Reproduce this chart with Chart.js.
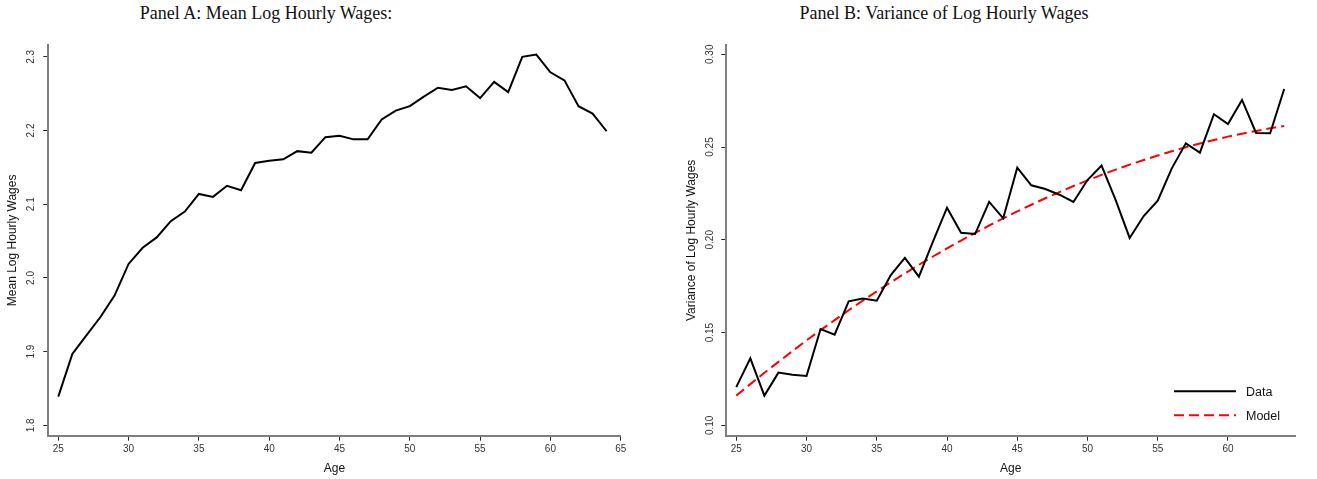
<!DOCTYPE html>
<html>
<head>
<meta charset="utf-8">
<script src="https://cdn.jsdelivr.net/npm/chart.js@4.4.1/dist/chart.umd.min.js"></script>
<style>
  body { margin: 0; background: #fff; width: 1317px; height: 479px; position: relative; overflow: hidden; }
  .title { position: absolute; top: 3px; font-family: "Liberation Serif", serif; font-size: 18px; line-height: 20px; color: #111; white-space: nowrap; transform: translateX(-50%); }
  canvas { position: absolute; top: 0; }
</style>
</head>
<body>
<div class="title" style="left:266px">Panel A: Mean Log Hourly Wages:</div>
<div class="title" style="left:944px">Panel B: Variance of Log Hourly Wages</div>
<canvas id="chartA" width="660" height="479" style="left:0"></canvas>
<canvas id="chartB" width="657" height="479" style="left:660px"></canvas>
<script>
// Ages on the x axis
const ages = [25, 26, 27, 28, 29, 30, 31, 32, 33, 34, 35, 36, 37, 38, 39, 40, 41, 42, 43, 44,
              45, 46, 47, 48, 49, 50, 51, 52, 53, 54, 55, 56, 57, 58, 59, 60, 61, 62, 63, 64];

// Panel A: mean log hourly wages
const meanLogWage = [1.839, 1.897, 1.922, 1.947, 1.976, 2.019, 2.041, 2.055, 2.077, 2.090,
                     2.114, 2.110, 2.125, 2.119, 2.156, 2.159, 2.161, 2.172, 2.170, 2.191,
                     2.193, 2.188, 2.188, 2.215, 2.227, 2.233, 2.246, 2.258, 2.255, 2.260,
                     2.244, 2.266, 2.252, 2.300, 2.303, 2.279, 2.268, 2.233, 2.223, 2.199];

// Panel B: variance of log hourly wages, data and model
const varData = [0.1206, 0.1361, 0.1160, 0.1284, 0.1273, 0.1266, 0.1519, 0.1489, 0.1668, 0.1684,
                 0.1672, 0.1810, 0.1902, 0.1801, 0.1990, 0.2173, 0.2038, 0.2031, 0.2205, 0.2116,
                 0.2389, 0.2294, 0.2274, 0.2243, 0.2204, 0.2322, 0.2400, 0.2215, 0.2010, 0.2128,
                 0.2211, 0.2385, 0.2520, 0.2470, 0.2677, 0.2624, 0.2754, 0.2576, 0.2574, 0.2813];
const varModel = [0.1160, 0.1222, 0.1283, 0.1342, 0.1400, 0.1458, 0.1513, 0.1567, 0.1620, 0.1672,
                  0.1722, 0.1771, 0.1819, 0.1865, 0.1910, 0.1954, 0.1996, 0.2037, 0.2077, 0.2116,
                  0.2153, 0.2189, 0.2224, 0.2257, 0.2290, 0.2320, 0.2350, 0.2378, 0.2405, 0.2430,
                  0.2454, 0.2477, 0.2499, 0.2519, 0.2538, 0.2556, 0.2572, 0.2587, 0.2601, 0.2613];

// Tick labels
const xTicksA = [25, 30, 35, 40, 45, 50, 55, 60, 65];
const yTicksA = [1.8, 1.9, 2.0, 2.1, 2.2, 2.3];
const xTicksB = [25, 30, 35, 40, 45, 50, 55, 60];
const yTicksB = [0.10, 0.15, 0.20, 0.25, 0.30];

const seriesLabels = ['Data', 'Model'];

const tickFont = { family: '"Liberation Sans", Arial, sans-serif', size: 10 };
const titleFont = { family: '"Liberation Sans", Arial, sans-serif', size: 12 };

function toPoints(xs, ys) {
    return xs.map((x, i) => ({ x: x, y: ys[i] }));
}

function axisX(min, max, tickList) {
    return {
        type: 'linear',
        min: min,
        max: max,
        afterBuildTicks: s => { s.ticks = tickList.map(v => ({ value: v })); },
        afterFit: s => { s.height = 43.3; },
        ticks: { font: tickFont, color: '#333', padding: 3, maxRotation: 0, callback: v => String(v) },
        grid: { display: true, drawOnChartArea: false, drawTicks: true, tickLength: 5, tickColor: '#222', tickWidth: 1 },
        border: { display: true, color: '#7f7f7f', width: 2 },
        title: { display: true, text: 'Age', font: titleFont, color: '#111', padding: { top: 0, bottom: 3.5 } }
    };
}

function axisY(min, max, tickList, decimals, width, tickPad, title, titlePad) {
    return {
        type: 'linear',
        min: min,
        max: max,
        afterBuildTicks: s => { s.ticks = tickList.map(v => ({ value: v })); },
        afterFit: s => { s.width = width; },
        ticks: { font: tickFont, color: '#333', padding: tickPad, minRotation: 90, maxRotation: 90,
                 crossAlign: 'center', callback: v => Number(v).toFixed(decimals) },
        grid: { display: true, drawOnChartArea: false, drawTicks: true, tickLength: 5, tickColor: '#222', tickWidth: 1 },
        border: { display: true, color: '#7f7f7f', width: 2 },
        title: { display: true, text: title, font: titleFont, color: '#111', padding: { top: titlePad, bottom: 0 } }
    };
}

// small legend drawn inside the plot, bottom right
const insideLegend = {
    id: 'insideLegend',
    afterDatasetsDraw(chart) {
        const ctx = chart.ctx;
        const area = chart.chartArea;
        chart.data.datasets.forEach((ds, i) => {
            const y = area.bottom - 44.5 + i * 24;
            const x0 = area.right - 121;
            ctx.save();
            ctx.strokeStyle = ds.borderColor;
            ctx.lineWidth = ds.borderWidth;
            ctx.setLineDash(ds.borderDash || []);
            ctx.beginPath();
            ctx.moveTo(x0, y);
            ctx.lineTo(x0 + 62, y);
            ctx.stroke();
            ctx.setLineDash([]);
            ctx.fillStyle = '#111';
            ctx.font = '12.5px "Liberation Sans", Arial, sans-serif';
            ctx.textBaseline = 'middle';
            ctx.fillText(ds.label, x0 + 72, y + 1);
            ctx.restore();
        });
    }
};

new Chart(document.getElementById('chartA').getContext('2d'), {
    type: 'line',
    data: {
        datasets: [{
            label: 'Mean Log Hourly Wages',
            data: toPoints(ages, meanLogWage),
            borderColor: '#000',
            borderWidth: 2,
            pointRadius: 0,
            tension: 0,
            fill: false
        }]
    },
    options: {
        responsive: false,
        animation: false,
        layout: { padding: { left: 0, top: 45, right: 39.3, bottom: 0 } },
        plugins: { legend: { display: false }, tooltip: { enabled: false } },
        scales: {
            x: axisX(24.29, 65, xTicksA),
            y: axisY(1.786, 2.316, yTicksA, 1, 48.3, 4.8, 'Mean Log Hourly Wages', 5.6)
        }
    }
});

new Chart(document.getElementById('chartB').getContext('2d'), {
    type: 'line',
    data: {
        datasets: [{
            label: seriesLabels[0],
            data: toPoints(ages, varData),
            borderColor: '#000',
            borderWidth: 2,
            pointRadius: 0,
            tension: 0,
            fill: false
        }, {
            label: seriesLabels[1],
            data: toPoints(ages, varModel),
            borderColor: '#ff0000',
            borderWidth: 2,
            borderDash: [10, 5],
            pointRadius: 0,
            tension: 0,
            fill: false
        }]
    },
    options: {
        responsive: false,
        animation: false,
        layout: { padding: { left: 0, top: 45, right: 22, bottom: 0 } },
        plugins: { legend: { display: false }, tooltip: { enabled: false } },
        scales: {
            x: axisX(24.29, 64.77, xTicksB),
            y: axisY(0.0944, 0.305, yTicksB, 2, 66.3, 1.6, 'Variance of Log Hourly Wages', 24)
        }
    },
    plugins: [insideLegend]
});
</script>
</body>
</html>
